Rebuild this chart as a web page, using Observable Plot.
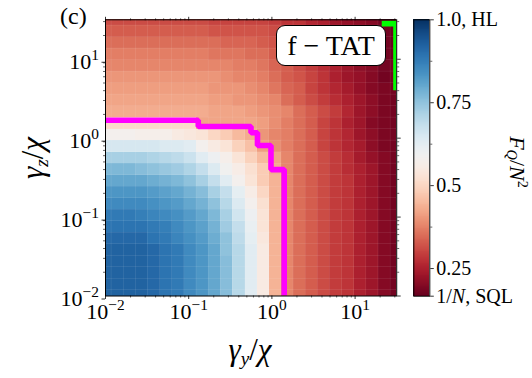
<!DOCTYPE html>
<html><head><meta charset="utf-8">
<script src="https://cdn.jsdelivr.net/npm/d3@7"></script>
<script src="https://cdn.jsdelivr.net/npm/@observablehq/plot@0.6"></script>
<style>
html,body{margin:0;padding:0;background:#fff;}
#fig{position:relative;width:532px;height:378px;overflow:hidden;font-family:"Liberation Serif","DejaVu Serif",serif;color:#000;}
#fig svg{position:absolute;left:0;top:0;overflow:visible;}
.lab{position:absolute;white-space:nowrap;line-height:1;font-family:"Liberation Serif","DejaVu Serif",serif;}
.box{position:absolute;left:276px;top:25px;width:108px;height:39px;border:1.3px solid #000;border-radius:9px;background:#fff;text-align:center;font-size:28px;line-height:39px;font-family:"Liberation Serif","DejaVu Serif",serif;}
</style></head><body><div id="fig"></div>
<script>
// log10 of cell centres (gamma_y/chi and gamma_z/chi)
const xCentersLog = [-2.0,-1.854,-1.708,-1.563,-1.417,-1.271,-1.125,-0.979,-0.833,-0.688,-0.542,-0.396,-0.25,-0.104,0.042,0.188,0.333,0.479,0.625,0.771,0.917,1.063,1.208,1.354,1.5];
const yCentersLog = [-2.0,-1.854,-1.708,-1.563,-1.417,-1.271,-1.125,-0.979,-0.833,-0.688,-0.542,-0.396,-0.25,-0.104,0.042,0.188,0.333,0.479,0.625,0.771,0.917,1.063,1.208,1.354,1.5];
// F_Q/N^2, one row per gamma_z value (bottom row first)
const r00 = [0.92,0.92,0.92,0.92,0.91,0.89,0.88,0.85,0.83,0.80,0.76,0.70,0.63,0.55,0.44,0.38,0.35,0.33,0.31,0.29,0.28,0.25,0.23,0.20,0.18];
const r01 = [0.92,0.92,0.92,0.92,0.91,0.89,0.88,0.85,0.83,0.80,0.76,0.70,0.63,0.55,0.44,0.38,0.35,0.33,0.31,0.29,0.28,0.25,0.23,0.20,0.18];
const r02 = [0.92,0.92,0.92,0.92,0.91,0.89,0.88,0.85,0.83,0.80,0.76,0.70,0.63,0.55,0.44,0.38,0.35,0.33,0.31,0.29,0.28,0.25,0.23,0.20,0.18];
const r03 = [0.92,0.92,0.92,0.92,0.91,0.89,0.88,0.85,0.83,0.80,0.76,0.70,0.63,0.55,0.44,0.38,0.35,0.33,0.31,0.29,0.28,0.25,0.23,0.20,0.18];
const r04 = [0.92,0.92,0.92,0.92,0.91,0.89,0.88,0.85,0.83,0.80,0.75,0.70,0.63,0.55,0.44,0.38,0.35,0.33,0.31,0.29,0.28,0.25,0.23,0.20,0.18];
const r05 = [0.91,0.91,0.91,0.91,0.89,0.88,0.86,0.84,0.82,0.79,0.75,0.69,0.62,0.54,0.44,0.38,0.35,0.33,0.31,0.29,0.28,0.25,0.23,0.20,0.18];
const r06 = [0.89,0.89,0.89,0.89,0.88,0.87,0.85,0.83,0.81,0.78,0.73,0.68,0.61,0.53,0.44,0.38,0.35,0.33,0.31,0.29,0.28,0.25,0.23,0.20,0.18];
const r07 = [0.88,0.88,0.88,0.87,0.86,0.85,0.84,0.82,0.80,0.77,0.72,0.66,0.60,0.53,0.44,0.38,0.35,0.33,0.31,0.29,0.28,0.25,0.23,0.20,0.18];
const r08 = [0.85,0.85,0.85,0.85,0.84,0.83,0.82,0.80,0.78,0.75,0.70,0.64,0.58,0.52,0.44,0.38,0.35,0.33,0.31,0.29,0.28,0.25,0.23,0.20,0.18];
const r09 = [0.83,0.83,0.83,0.83,0.82,0.81,0.80,0.78,0.76,0.72,0.68,0.62,0.56,0.50,0.44,0.38,0.35,0.33,0.31,0.29,0.28,0.25,0.23,0.20,0.18];
const r10 = [0.80,0.80,0.80,0.80,0.79,0.78,0.77,0.75,0.72,0.68,0.63,0.58,0.53,0.48,0.44,0.38,0.35,0.33,0.31,0.29,0.28,0.25,0.23,0.20,0.18];
const r11 = [0.77,0.77,0.77,0.76,0.75,0.74,0.73,0.71,0.68,0.64,0.59,0.56,0.52,0.48,0.43,0.38,0.35,0.33,0.31,0.29,0.27,0.25,0.23,0.20,0.18];
const r12 = [0.72,0.72,0.72,0.72,0.71,0.70,0.69,0.67,0.63,0.60,0.57,0.53,0.49,0.45,0.42,0.38,0.35,0.33,0.31,0.29,0.27,0.24,0.22,0.20,0.18];
const r13 = [0.65,0.65,0.65,0.65,0.65,0.64,0.64,0.63,0.58,0.55,0.53,0.49,0.46,0.41,0.39,0.37,0.35,0.33,0.30,0.28,0.26,0.24,0.21,0.19,0.18];
const r14 = [0.58,0.58,0.58,0.57,0.57,0.57,0.55,0.54,0.53,0.50,0.48,0.45,0.43,0.40,0.38,0.37,0.35,0.33,0.30,0.28,0.26,0.23,0.21,0.19,0.18];
const r15 = [0.51,0.51,0.51,0.51,0.51,0.51,0.51,0.51,0.42,0.42,0.42,0.42,0.42,0.41,0.39,0.37,0.35,0.33,0.30,0.28,0.25,0.23,0.20,0.19,0.18];
const r16 = [0.43,0.43,0.43,0.43,0.43,0.43,0.43,0.43,0.43,0.42,0.42,0.42,0.41,0.40,0.39,0.38,0.35,0.33,0.31,0.29,0.26,0.23,0.21,0.19,0.18];
const r17 = [0.42,0.42,0.42,0.42,0.42,0.42,0.42,0.42,0.42,0.41,0.41,0.40,0.40,0.39,0.38,0.35,0.33,0.31,0.29,0.27,0.25,0.23,0.21,0.19,0.18];
const r18 = [0.41,0.41,0.41,0.41,0.41,0.41,0.41,0.41,0.41,0.40,0.40,0.40,0.39,0.38,0.36,0.34,0.33,0.30,0.28,0.26,0.24,0.22,0.20,0.19,0.18];
const r19 = [0.40,0.40,0.40,0.40,0.40,0.40,0.40,0.40,0.40,0.40,0.39,0.38,0.38,0.37,0.35,0.33,0.32,0.30,0.28,0.25,0.23,0.22,0.20,0.18,0.18];
const r20 = [0.38,0.38,0.38,0.38,0.38,0.38,0.38,0.38,0.38,0.38,0.38,0.37,0.37,0.36,0.34,0.33,0.31,0.29,0.27,0.25,0.23,0.21,0.20,0.18,0.18];
const r21 = [0.37,0.37,0.37,0.37,0.37,0.37,0.37,0.37,0.37,0.36,0.36,0.36,0.35,0.35,0.33,0.32,0.30,0.28,0.26,0.24,0.22,0.21,0.19,0.18,0.17];
const r22 = [0.35,0.35,0.35,0.35,0.35,0.35,0.35,0.35,0.35,0.35,0.34,0.34,0.34,0.33,0.32,0.31,0.29,0.28,0.26,0.24,0.22,0.20,0.19,0.18,0.17];
const r23 = [0.33,0.33,0.33,0.33,0.33,0.33,0.33,0.33,0.33,0.32,0.32,0.32,0.32,0.32,0.31,0.30,0.28,0.27,0.25,0.23,0.22,0.20,0.19,0.18,0.17];
const r24 = [0.31,0.31,0.31,0.31,0.31,0.31,0.31,0.31,0.31,0.30,0.30,0.30,0.30,0.30,0.29,0.28,0.28,0.26,0.25,0.23,0.22,0.21,0.20,0.18,0.18];
const rows = [r00,r01,r02,r03,r04,r05,r06,r07,r08,r09,r10,r11,r12,r13,r14,r15,r16,r17,r18,r19,r20,r21,r22,r23,r24];

// magenta boundary (staircase) and green boundary
const magentaX = [0.01,0.1303,0.1303,0.561,0.561,0.671,0.671,0.975,0.975,1.406,1.406];
const magentaY = [1.687,1.687,1.403,1.403,1.172,1.172,0.807,0.807,0.400,0.400,0.01];
const greenX = [20.9,31.0,31.0];
const greenY = [28.3,28.3,4.06];

const majorTicks = [0.01,0.1,1,10];
const cbarTicks = [1/6,0.25,0.5,0.75,1];
const cbarMinor = [0.375,0.625,0.875];

// ---------- build ----------
const SERIF = '"Liberation Serif","DejaVu Serif",serif';
const XMAX = Math.pow(10,1.5);
function edges(c){const e=[c[0]];for(let k=0;k<c.length-1;k++)e.push((c[k]+c[k+1])/2);e.push(c[c.length-1]);return e;}
const ex = edges(xCentersLog), ey = edges(yCentersLog);
const cells = [];
rows.forEach((row,j)=>row.forEach((v,i)=>cells.push({x1:10**ex[i],x2:10**ex[i+1],y1:10**ey[j],y2:10**ey[j+1],v})));
const magenta = magentaX.map((x,k)=>({x,y:magentaY[k]}));
const green = greenX.map((x,k)=>({x,y:greenY[k]}));
const minorTicks = [];
for(const d of majorTicks) for(let k=2;k<10;k++){const t=d*k; if(t<=XMAX) minorTicks.push(t);}
const expFmt = d=>"10^"+Math.round(Math.log10(d));
const blank = ()=>"";

const colorOpt = {type:"linear",domain:[1/6,1],interpolate:d3.interpolateRdBu};
const L=105, R=396.2, T=19.3, B=295.5;

const main = Plot.plot({
  width:532,height:378,
  marginLeft:L,marginRight:532-R,marginTop:T,marginBottom:378-B,
  style:{fontFamily:SERIF,fontSize:"22px",background:"transparent",color:"#000"},
  x:{type:"log",domain:[0.01,XMAX]},
  y:{type:"log",domain:[0.01,XMAX]},
  color:colorOpt,
  marks:[
    Plot.rect(cells,{x1:"x1",x2:"x2",y1:"y1",y2:"y2",fill:"v",shapeRendering:"crispEdges"}),
    Plot.rect(cells,{x1:"x1",x2:"x2",y1:"y1",y2:"y2",fill:"none",stroke:"#fff",strokeOpacity:0.09,strokeWidth:0.5}),
    Plot.line(magenta,{x:"x",y:"y",stroke:"#ff00ff",strokeWidth:5.6,strokeLinejoin:"miter",strokeLinecap:"butt",clip:true}),
    Plot.line(green,{x:"x",y:"y",stroke:"#00ff00",strokeWidth:5.6,strokeLinejoin:"miter",strokeLinecap:"butt",clip:true}),
    Plot.frame({stroke:"#000",strokeWidth:1}),
    Plot.axisX({anchor:"bottom",ticks:majorTicks,tickSize:3.5,tickPadding:4,tickFormat:expFmt,label:null,fontSize:22,strokeWidth:0.8}),
    Plot.axisX({anchor:"bottom",ticks:minorTicks,tickSize:2,tickFormat:blank,label:null,strokeWidth:0.6}),
    Plot.axisX({anchor:"top",ticks:majorTicks,tickSize:3.5,tickFormat:blank,label:null,strokeWidth:0.8}),
    Plot.axisX({anchor:"top",ticks:minorTicks,tickSize:2,tickFormat:blank,label:null,strokeWidth:0.6}),
    Plot.axisY({anchor:"left",ticks:majorTicks,tickSize:3.5,tickPadding:3,tickFormat:expFmt,label:null,fontSize:22,strokeWidth:0.8,dy:3}),
    Plot.axisY({anchor:"left",ticks:minorTicks,tickSize:2,tickFormat:blank,label:null,strokeWidth:0.6}),
    Plot.axisY({anchor:"right",ticks:majorTicks,tickSize:3.5,tickFormat:blank,label:null,strokeWidth:0.8}),
    Plot.axisY({anchor:"right",ticks:minorTicks,tickSize:2,tickFormat:blank,label:null,strokeWidth:0.6})
  ]
});

// colour bar
const CL=413.3, CR=429.3, CT=19.3, CB=295.7;
const slices = d3.range(300).map(k=>{const a=1/6+(5/6)*k/300,b=1/6+(5/6)*(k+1)/300;return {a,b,v:(a+b)/2};});
const cbar = Plot.plot({
  width:532,height:378,
  marginLeft:CL,marginRight:532-CR,marginTop:CT,marginBottom:378-CB,
  style:{fontFamily:SERIF,fontSize:"20px",background:"transparent",color:"#000"},
  x:{domain:[0,1],axis:null},
  y:{domain:[1/6,1]},
  color:colorOpt,
  marks:[
    Plot.rect(slices,{x1:0,x2:1,y1:"a",y2:"b",fill:"v",shapeRendering:"crispEdges"}),
    Plot.frame({stroke:"#000",strokeWidth:1}),
    Plot.axisY({anchor:"right",ticks:cbarTicks,tickSize:3.5,tickPadding:3,label:null,fontSize:20,strokeWidth:0.8,
      tickFormat:d=>d===1?"1.0, HL":(d<0.2?"1/N, SQL":String(d))}),
    Plot.axisY({anchor:"right",ticks:cbarMinor,tickSize:2,tickFormat:blank,label:null,strokeWidth:0.6})
  ]
});

function fixText(svg){
  d3.select(svg).selectAll("text").each(function(){
    const t=this.textContent;
    this.setAttribute("font-family",SERIF);
    const m=/^10\^(.+)$/.exec(t);
    if(m){
      const s=d3.select(this); s.text("10");
      s.append("tspan").attr("dy","-0.6em").attr("font-size","0.7em").text(m[1].replace("-","\u2212"));
      return;
    }
    if(t==="1/N, SQL"){
      const s=d3.select(this); s.text("1/");
      s.append("tspan").attr("font-style","italic").text("N");
      s.append("tspan").text(", SQL");
    }
  });
}
fixText(main); fixText(cbar);

const fig=document.getElementById("fig");
fig.appendChild(main); fig.appendChild(cbar);

function lab(html,css){const d=document.createElement("div");d.className="lab";d.innerHTML=html;Object.assign(d.style,css);fig.appendChild(d);return d;}
lab("(c)",{left:"60px",top:"4px",fontSize:"24px"});
lab('<i>γ</i><sub style="font-size:0.62em;vertical-align:-0.25em"><i>y</i></sub>/<i>χ</i>',{left:"250px",top:"334px",fontSize:"31px",transform:"translateX(-50%)"});
lab('<i>γ</i><sub style="font-size:0.62em;vertical-align:-0.25em"><i>z</i></sub>/<i>χ</i>',{left:"34px",top:"158px",fontSize:"31px",transform:"translate(-50%,-50%) rotate(-90deg)"});
lab('<i>F</i><sub style="font-size:0.65em;vertical-align:-0.25em"><i>Q</i></sub>/<i>N</i><sup style="font-size:0.65em;vertical-align:0.5em">2</sup>',{left:"517px",top:"162px",fontSize:"22px",transform:"translate(-50%,-50%) rotate(90deg)"});
const box=document.createElement("div");box.className="box";box.textContent="f \u2212 TAT";fig.appendChild(box);
</script></body></html>
